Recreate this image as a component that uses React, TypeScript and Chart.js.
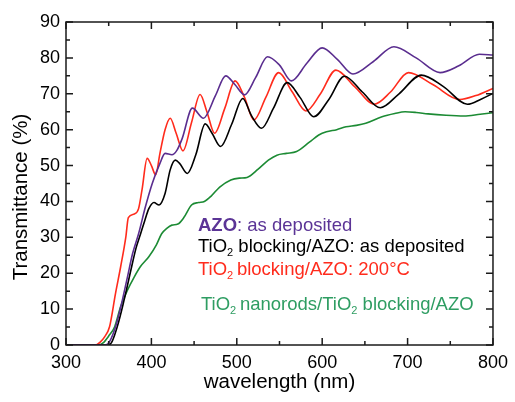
import React, { useEffect, useRef } from "react";
import { Chart, registerables } from "chart.js";

Chart.register(...registerables);

// ---- data (wavelength in nm, transmittance in %) ----
const azoWl = [300, 345, 349, 358, 366, 372, 378, 385, 393, 401, 410, 416, 424, 430, 436, 448, 461, 475, 487, 498, 509, 522, 536, 550, 564, 582, 600, 618, 636, 660, 684, 710, 738, 760, 784, 800];
const azoT = [0, 0, 0.3, 5, 12.5, 19, 25.5, 31, 38.5, 45, 50.6, 53.4, 53, 54.3, 57.5, 66, 63.2, 69.5, 75, 72.5, 69.7, 74.5, 80.3, 78, 73.6, 78.5, 82.8, 79.5, 75.5, 79, 83.1, 80, 75.9, 77.8, 81, 80.8];

const blkWl = [300, 345, 352, 360, 368, 376, 382, 386, 392, 397, 403, 409, 416, 422, 428, 433, 442, 452, 463, 471, 481, 494, 507, 517, 529, 543, 559, 574, 590, 608, 626, 647, 668, 690, 716, 742, 770, 786, 800];
const blkT = [0, 0, 0.3, 5.1, 12.5, 20.9, 27, 30, 34.5, 38, 39.7, 39, 42.2, 48.8, 51.5, 50.6, 47.8, 53, 61.6, 59, 55.3, 61.5, 68.7, 64, 60.4, 66, 73.1, 69, 63.6, 68.5, 74.9, 70.5, 66.1, 70, 75.2, 72, 67.1, 68.5, 70.1];

const redWl = [300, 335, 340, 345, 351, 358, 364, 370, 373, 380, 385, 389, 395, 400, 405, 410, 416, 422, 429, 437, 447, 457, 465, 474, 486, 498, 509, 520, 534, 549, 565, 581, 598, 616, 638, 661, 680, 701, 730, 761, 780, 800];
const redT = [0, 0, 0.8, 2.2, 5.1, 14.4, 21.8, 30, 35.5, 36.5, 38, 43.2, 52, 50, 47.4, 53.4, 60, 63.2, 59, 54.1, 62, 69.8, 65, 59, 66, 73.6, 69, 62.7, 69, 75.9, 70.5, 65.2, 70, 76.6, 72, 67.1, 70.5, 75.9, 72.5, 68.4, 69.5, 71.5];

const grnWl = [300, 338, 343, 350, 357, 364, 372, 380, 387, 397, 406, 412, 418, 424, 431, 438, 447, 455, 462, 470, 480, 493, 503, 512, 525, 537, 547, 558, 570, 585, 596, 605, 617, 628, 640, 651, 670, 685, 697, 710, 724, 745, 766, 785, 800];
const grnT = [0, 0, 0.5, 2.5, 5.1, 10.7, 15.3, 19, 21.8, 24.6, 28, 31, 32.5, 33.4, 33.7, 35.5, 39, 39.7, 40, 41.5, 44, 46, 46.5, 46.7, 49, 51.5, 52.9, 53.4, 53.9, 56.5, 58.5, 59.4, 60, 60.8, 61.2, 61.8, 63.6, 64.5, 65, 64.8, 64.4, 64, 63.8, 64.3, 64.7];

const xMajorTicks = [300, 400, 500, 600, 700, 800];
const xMinorTicks = [350, 450, 550, 650, 750];
const yMajorTicks = [0, 10, 20, 30, 40, 50, 60, 70, 80, 90];
const yMinorTicks = [5, 15, 25, 35, 45, 55, 65, 75, 85];

const xTitle = "wavelength (nm)";
const yTitle = "Transmittance (%)";

type Part = { t: string; sub?: boolean; bold?: boolean };
const legendAzo: Part[] = [{ t: "AZO", bold: true }, { t: ": as deposited" }];
const legendBlk: Part[] = [{ t: "TiO" }, { t: "2", sub: true }, { t: " blocking/AZO: as deposited" }];
const legendRed: Part[] = [{ t: "TiO" }, { t: "2", sub: true }, { t: "\u2009blocking/AZO: 200°C" }];
const legendGrn: Part[] = [{ t: "TiO" }, { t: "2", sub: true }, { t: "\u2009nanorods/TiO" }, { t: "2", sub: true }, { t: " blocking/AZO" }];

const C_AZO = "#5a2d8f";
const C_BLK = "#000000";
const C_RED = "#ff2b1c";
const C_GRN = "#1c8b34";
const C_GRN_TXT = "#2e9d62";
const C_AZO_TXT = "#5b3496";

const FONT = "'Liberation Sans', Arial, Helvetica, sans-serif";

function toPts(wl: number[], t: number[]) {
  return wl.map((x, i) => ({ x, y: t[i] }));
}

function drawRich(ctx: CanvasRenderingContext2D, x: number, y: number, parts: Part[], color: string, size: number) {
  let cx = x;
  ctx.fillStyle = color;
  ctx.textBaseline = "alphabetic";
  ctx.textAlign = "left";
  for (const p of parts) {
    if (p.sub) {
      ctx.font = `${Math.round(size * 0.62)}px ${FONT}`;
      ctx.fillText(p.t, cx, y + 4);
      cx += ctx.measureText(p.t).width;
    } else {
      ctx.font = `${p.bold ? "bold " : ""}${size}px ${FONT}`;
      ctx.fillText(p.t, cx, y);
      cx += ctx.measureText(p.t).width;
    }
  }
}

const decorPlugin = {
  id: "decor",
  afterDraw(chart: any) {
    const ctx: CanvasRenderingContext2D = chart.ctx;
    const { left, right, top, bottom } = chart.chartArea;
    const xs = chart.scales.x;
    const ys = chart.scales.y;
    ctx.save();
    ctx.strokeStyle = "#1a1a1a";
    ctx.lineWidth = 1.5;
    ctx.strokeRect(left, top, right - left, bottom - top);
    ctx.beginPath();
    const maj = 7;
    const min = 4;
    for (const v of xMajorTicks) {
      const px = xs.getPixelForValue(v);
      ctx.moveTo(px, bottom); ctx.lineTo(px, bottom - maj);
      ctx.moveTo(px, top); ctx.lineTo(px, top + maj);
    }
    for (const v of xMinorTicks) {
      const px = xs.getPixelForValue(v);
      ctx.moveTo(px, bottom); ctx.lineTo(px, bottom - min);
      ctx.moveTo(px, top); ctx.lineTo(px, top + min);
    }
    for (const v of yMajorTicks) {
      const py = ys.getPixelForValue(v);
      ctx.moveTo(left, py); ctx.lineTo(left + maj, py);
      ctx.moveTo(right, py); ctx.lineTo(right - maj, py);
    }
    for (const v of yMinorTicks) {
      const py = ys.getPixelForValue(v);
      ctx.moveTo(left, py); ctx.lineTo(left + min, py);
      ctx.moveTo(right, py); ctx.lineTo(right - min, py);
    }
    ctx.stroke();

    // axis titles
    ctx.fillStyle = "#000";
    ctx.font = `20.5px ${FONT}`;
    ctx.textAlign = "center";
    ctx.textBaseline = "middle";
    ctx.fillText(xTitle, (left + right) / 2, 382);
    ctx.save();
    ctx.translate(21, 197);
    ctx.rotate(-Math.PI / 2);
    ctx.fillText(yTitle, 0, 0);
    ctx.restore();

    // legend text
    drawRich(ctx, 198, 231, legendAzo, C_AZO_TXT, 18.5);
    drawRich(ctx, 198, 252, legendBlk, C_BLK, 18.5);
    drawRich(ctx, 198, 275, legendRed, C_RED, 18.5);
    drawRich(ctx, 201, 310, legendGrn, C_GRN_TXT, 18.5);
    ctx.restore();
  },
};

export default function App() {
  const ref = useRef<HTMLCanvasElement>(null);
  useEffect(() => {
    if (!ref.current) return;
    const line = (label: string, wl: number[], t: number[], color: string) => ({
      label,
      data: toPts(wl, t),
      borderColor: color,
      backgroundColor: color,
      borderWidth: 1.6,
      pointRadius: 0,
      tension: 0.4,
      cubicInterpolationMode: "monotone" as const,
      fill: false,
    });
    const chart = new Chart(ref.current, {
      type: "line",
      data: {
        datasets: [
          line("AZO: as deposited", azoWl, azoT, C_AZO),
          line("TiO2 blocking/AZO: as deposited", blkWl, blkT, C_BLK),
          line("TiO2 blocking/AZO: 200°C", redWl, redT, C_RED),
          line("TiO2 nanorods/TiO2 blocking/AZO", grnWl, grnT, C_GRN),
        ],
      },
      options: {
        responsive: false,
        animation: false,
        layout: { padding: { left: 0, right: 16, top: 22, bottom: 0 } },
        plugins: { legend: { display: false }, tooltip: { enabled: false } },
        scales: {
          x: {
            type: "linear",
            min: 300,
            max: 800,
            afterFit: (s: any) => { s.height = 57; },
            afterBuildTicks: (s: any) => { s.ticks = xMajorTicks.map((v) => ({ value: v })); },
            ticks: { color: "#000", font: { size: 18, family: FONT }, padding: 7, maxRotation: 0 },
            grid: { display: false, drawTicks: false },
            border: { display: false },
          },
          y: {
            type: "linear",
            min: 0,
            max: 90,
            afterFit: (s: any) => { s.width = 66; },
            afterBuildTicks: (s: any) => { s.ticks = yMajorTicks.map((v) => ({ value: v })); },
            ticks: { color: "#000", font: { size: 18, family: FONT }, padding: 6 },
            grid: { display: false, drawTicks: false },
            border: { display: false },
          },
        },
      },
      plugins: [decorPlugin],
    });
    return () => chart.destroy();
  }, []);
  return (
    <div style={{ position: "fixed", left: 0, top: 0, width: 515, height: 402, background: "#fff" }}>
      <canvas ref={ref} width={515} height={402} />
    </div>
  );
}
